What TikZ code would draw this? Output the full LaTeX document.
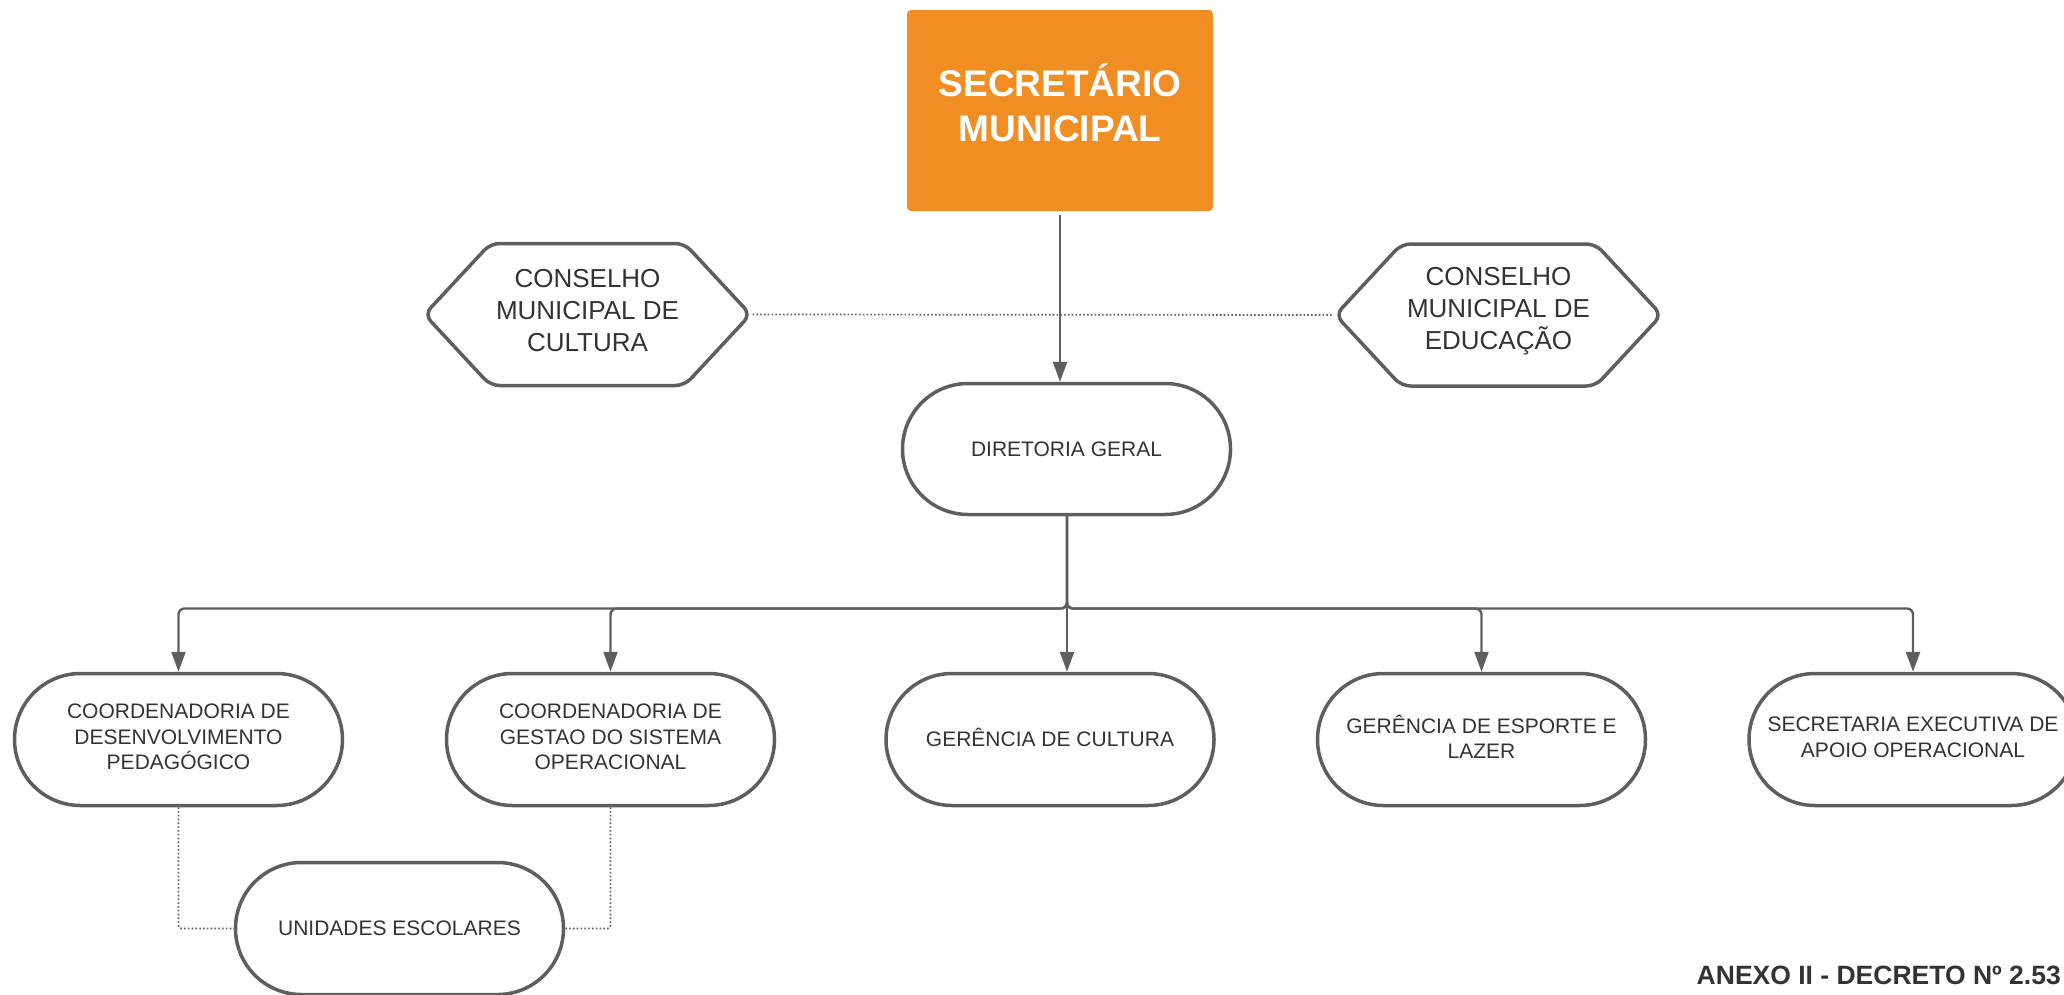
\documentclass[tikz,border=0pt]{standalone}
\usepackage{fontspec}
\setmainfont{Liberation Sans}
\usetikzlibrary{arrows.meta,shapes.misc,calc}
\definecolor{orng}{HTML}{F08D23}
\definecolor{ln}{HTML}{5E5E5E}
\definecolor{txt}{HTML}{333333}
\newcommand\updn{\rule[-5pt]{0pt}{5pt}}
\begin{document}
\begin{tikzpicture}[x=1pt,y=-1pt,
  pill/.style={rounded rectangle, draw=ln, line width=3.5pt, minimum width=328pt,
    minimum height=132pt, inner sep=0pt, align=center, text=txt,
    font=\fontsize{21}{25.5}\selectfont},
  hexbox/.style={minimum width=326pt, minimum height=142pt, inner sep=0pt,
    align=center, text=txt, font=\fontsize{26}{31.7}\selectfont},
  hexline/.style={draw=ln, line width=3.5pt, rounded corners=9pt},
  secbox/.style={fill=orng, rounded corners=4pt, minimum width=306pt,
    minimum height=201pt, inner sep=0pt},
  sectext/.style={text=white, align=center, inner sep=0pt,
    font=\bfseries\fontsize{37}{45}\selectfont},
  conn/.style={draw=ln, line width=2.4pt, rounded corners=6pt,
    -{Triangle[length=20pt,width=14pt]}},
  dots/.style={draw=ln, line width=1.7pt, dash pattern=on 1.6pt off 2.2pt},
  note/.style={text=txt, inner sep=0pt, font=\bfseries\fontsize{26.5}{30}\selectfont}]
\useasboundingbox (0,0) rectangle (2064,994);
\clip (0,0) rectangle (2064,994);

% top box
\node[secbox] (sec) at (1060,110.5) {};
\node[sectext] (sectxt) at (1060,103) {SECRETÁRIO\\MUNICIPAL};

% councils
\node[hexbox] (cl) at (587.5,310.5) {CONSELHO\\MUNICIPAL DE\\CULTURA};
\node[hexbox] (ce) at (1498.5,311) {CONSELHO\\MUNICIPAL DE\\EDUCAÇÃO};
\foreach \h in {cl,ce}{
  \draw[hexline] ($(\h.center)+(0,-67)$) -- ($(\h.center)+(97,-67)$)
    -- ($(\h.center)+(163,4)$) -- ($(\h.center)+(97,75)$)
    -- ($(\h.center)+(-97,75)$) -- ($(\h.center)+(-163,4)$)
    -- ($(\h.center)+(-97,-67)$) -- cycle;
}
\coordinate (clr) at ($(cl.center)+(165,4)$);
\coordinate (cel) at ($(ce.center)+(-165,4)$);
\draw[dots] (clr) -- (cel);

% director
\node[pill, minimum height=131pt] (dg) at (1066.5,449) {DIRETORIA GERAL};
\draw[conn, shorten <=4pt] (sec.south) -- (sec.south |- dg.north);

% lower level
\node[pill] (b1) at (178.5,739.5) {COORDENADORIA DE\\DESENVOLVIMENTO\\PEDAGÓGICO\updn};
\node[pill] (b2) at (610.5,739.5) {COORDENADORIA DE\\GESTAO DO SISTEMA\\OPERACIONAL\updn};
\node[pill] (b3) at (1050,739.5) {GERÊNCIA DE CULTURA\updn};
\node[pill] (b4) at (1481.5,739.5) {GERÊNCIA DE ESPORTE E\\LAZER\updn\updn};
\node[pill] (b5) at (1913,739.5) {SECRETARIA EXECUTIVA DE\\APOIO OPERACIONAL\updn};
\node[pill] (ue) at (399.5,928.5) {UNIDADES ESCOLARES};

\coordinate (jn) at (1067,608.5);
\foreach \b in {b1,b2,b4,b5}{
  \draw[conn] (dg.south -| jn) -- (jn) -| (\b.north);
}
\draw[conn] (dg.south -| jn) -- (jn |- b3.north);

\draw[dots, rounded corners=3pt] (b1.south) |- (ue.west);
\draw[dots, rounded corners=3pt] (b2.south) |- (ue.east);

\node[note, anchor=base east] (anexo) at (2061,984) {ANEXO II - DECRETO Nº 2.53};
\end{tikzpicture}
\end{document}
